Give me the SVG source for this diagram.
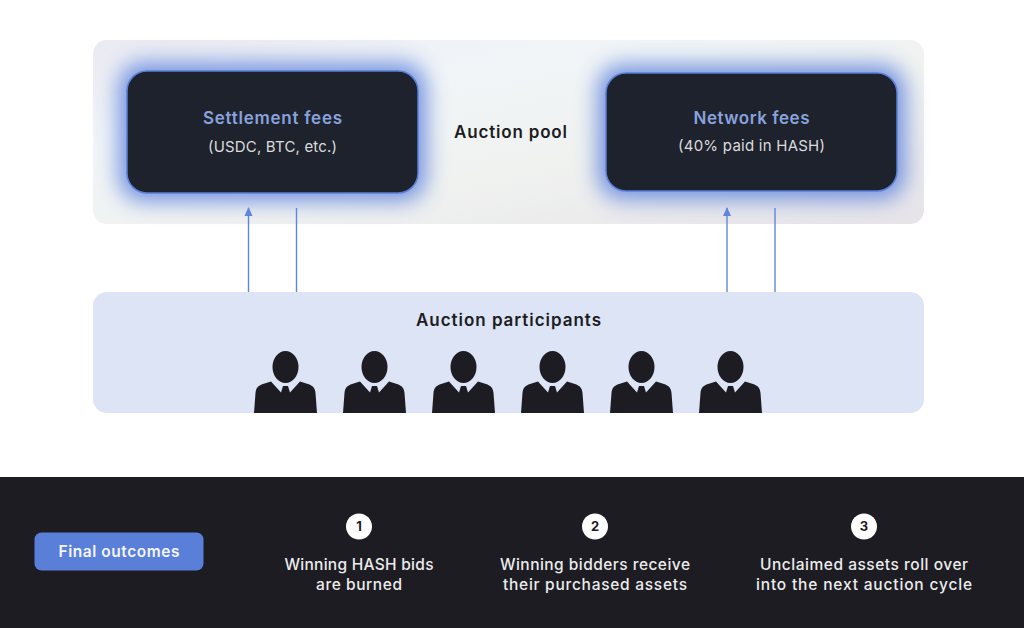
<svg xmlns="http://www.w3.org/2000/svg" width="1024" height="628" viewBox="0 0 1024 628">
<style>
text{font-family:"Inter","Liberation Sans",sans-serif;text-anchor:middle}
.box{fill:#1e222d;stroke:#5b7fd6;stroke-width:1.5}
.glow{fill:#5a80dc;opacity:.85;filter:url(#blur)}
.h{font-size:17px;font-weight:600;fill:#89a2dc}
.s{font-size:15px;fill:#dcdcdc}
.t{font-size:17px;font-weight:600;fill:#1c1c22}
.w{font-size:15.500px;font-weight:500;fill:#ececec}
.n{font-size:13px;font-weight:700;fill:#1c1c22}
.c{stroke:#5f86dc;stroke-width:1.4;fill:none}
</style>
<defs>
<linearGradient id="pool" x1="0" y1="0" x2="1" y2="1">
<stop offset="0" stop-color="#eaeaf2"/><stop offset=".3" stop-color="#f1f5f8"/><stop offset=".6" stop-color="#f0f2f0"/><stop offset="1" stop-color="#e6e3e8"/>
</linearGradient>
<filter id="blur" x="-20%" y="-40%" width="140%" height="180%"><feGaussianBlur stdDeviation="11"/></filter>
<marker id="arrow" viewBox="0 0 9 9" refX="8" refY="4.500" markerWidth="9" markerHeight="9" markerUnits="userSpaceOnUse" orient="auto"><path d="M0 0.500L9 4.500L0 8.500Z" fill="#5f86dc"/></marker>
<g id="person">
<ellipse cx="285.500" cy="367" rx="13" ry="16" fill="#1c1c22"/>
<path d="M254 413L255.500 393C256 387 259 385.500 263 384L271 381.500L281 392.500L283 386H288L290 392.500L300 381.500L308 384C312 385.500 315 387 315.500 393L317 413Z" fill="#1c1c22"/>
</g>
</defs>
<rect width="1024" height="628" fill="#ffffff"/>
<g id="auction-pool">
<rect x="93" y="40" width="831" height="184" rx="14" fill="url(#pool)"/>
<text class="t" x="510.500" y="137.500" textLength="113" lengthAdjust="spacing">Auction pool</text>
</g>
<g id="settlement-fees">
<rect class="glow" x="119" y="63" width="307" height="138" rx="24"/>
<rect class="box" x="127" y="71" width="291" height="122" rx="20"/>
<text class="h" x="272.500" y="124" textLength="139" lengthAdjust="spacing">Settlement fees</text>
<text class="s" x="272.500" y="152" textLength="129" lengthAdjust="spacing">(USDC, BTC, etc.)</text>
</g>
<g id="network-fees">
<rect class="glow" x="598" y="65" width="307" height="134" rx="24"/>
<rect class="box" x="606" y="73" width="291" height="118" rx="20"/>
<text class="h" x="751.500" y="124" textLength="116" lengthAdjust="spacing">Network fees</text>
<text class="s" x="751.500" y="151" textLength="147" lengthAdjust="spacing">(40% paid in HASH)</text>
</g>
<g id="auction-participants">
<rect x="93" y="292" width="831" height="121" rx="14" fill="#dde4f5"/>
<text class="t" x="508.500" y="326" textLength="185" lengthAdjust="spacing">Auction participants</text>
<use href="#person"/>
<use href="#person" x="89"/>
<use href="#person" x="178"/>
<use href="#person" x="267"/>
<use href="#person" x="356"/>
<use href="#person" x="445"/>
</g>
<g id="connectors">
<line class="c" x1="248.500" y1="292" x2="248.500" y2="208" marker-end="url(#arrow)"/>
<line class="c" x1="296.500" y1="292" x2="296.500" y2="208"/>
<line class="c" x1="727" y1="292" x2="727" y2="208" marker-end="url(#arrow)"/>
<line class="c" x1="775" y1="292" x2="775" y2="208"/>
</g>
<rect id="footer" y="477" width="1024" height="151" fill="#1c1c22"/>
<g id="final-outcomes">
<rect x="34.500" y="532.500" width="169" height="38" rx="7" fill="#5a7fd8"/>
<text x="119" y="557" font-size="15.500" font-weight="600" fill="#f4f6fc" textLength="121" lengthAdjust="spacing">Final outcomes</text>
</g>
<g id="outcome-1">
<circle cx="359" cy="526.500" r="13" fill="#ffffff"/>
<text class="n" x="359" y="531">1</text>
<text class="w" x="359" y="570" textLength="149" lengthAdjust="spacing">Winning HASH bids</text>
<text class="w" x="359" y="590" textLength="86" lengthAdjust="spacing">are burned</text>
</g>
<g id="outcome-2">
<circle cx="595" cy="526.500" r="13" fill="#ffffff"/>
<text class="n" x="595" y="531">2</text>
<text class="w" x="595" y="570" textLength="190" lengthAdjust="spacing">Winning bidders receive</text>
<text class="w" x="595" y="590" textLength="184" lengthAdjust="spacing">their purchased assets</text>
</g>
<g id="outcome-3">
<circle cx="864" cy="526.500" r="13" fill="#ffffff"/>
<text class="n" x="864" y="531">3</text>
<text class="w" x="864" y="570" textLength="208" lengthAdjust="spacing">Unclaimed assets roll over</text>
<text class="w" x="864" y="590" textLength="216" lengthAdjust="spacing">into the next auction cycle</text>
</g>
</svg>
